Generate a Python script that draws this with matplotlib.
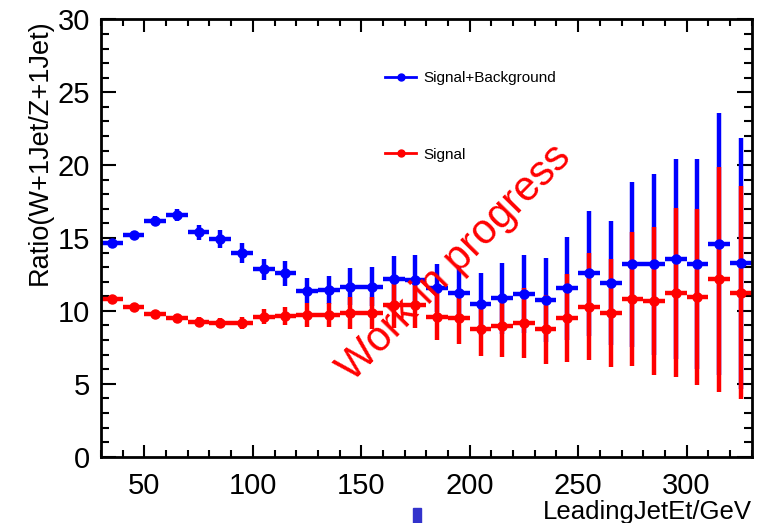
import numpy as np
import matplotlib
matplotlib.use("Agg")
import matplotlib.pyplot as plt
from matplotlib.patches import Rectangle
from matplotlib.lines import Line2D
from matplotlib.ticker import MultipleLocator

plt.rcParams['font.family'] = ['Liberation Sans', 'DejaVu Sans']

# bin centres (GeV), bin half-width 5
et = np.arange(35, 330, 10)
half_width = 5

sig_bkg = [14.64, 15.2, 16.19, 16.58, 15.39, 14.93, 13.99, 12.85, 12.58, 11.37,
           11.43, 11.66, 11.66, 12.19, 12.12, 11.55, 11.25, 10.47, 10.86, 11.16,
           10.75, 11.55, 12.58, 11.94, 13.2, 13.2, 13.54, 13.2, 14.6, 13.26]
sig_bkg_err = [0.3, 0.3, 0.3, 0.4, 0.5, 0.6, 0.7, 0.7, 0.85, 0.86,
               0.96, 1.25, 1.35, 1.6, 1.7, 1.65, 1.75, 2.1, 2.45, 2.65,
               2.85, 3.55, 4.27, 4.26, 5.66, 6.2, 6.86, 7.2, 9.0, 8.6]

sig = [10.82, 10.25, 9.77, 9.49, 9.26, 9.19, 9.19, 9.6, 9.65, 9.72,
       9.72, 9.83, 9.83, 10.4, 10.4, 9.6, 9.5, 8.74, 8.96, 9.15,
       8.74, 9.5, 10.3, 9.83, 10.8, 10.68, 11.25, 10.97, 12.17, 11.25]
sig_err = [0.2, 0.2, 0.25, 0.3, 0.3, 0.35, 0.4, 0.5, 0.65, 0.8,
           0.8, 1.1, 1.1, 1.6, 1.6, 1.6, 1.8, 1.85, 2.1, 2.4,
           2.35, 3.0, 3.65, 3.7, 4.6, 5.1, 5.8, 6.05, 7.7, 7.3]

fig = plt.figure(figsize=(7.67, 5.23), dpi=100)
ax = fig.add_axes([0.1317, 0.1268, 0.8483, 0.8362])

style = dict(fmt='o', markersize=6.5, elinewidth=3.2, capsize=0, linewidth=3)
ax.errorbar(et, sig_bkg, xerr=half_width, yerr=sig_bkg_err, color='#0000ff', **style)
ax.errorbar(et, sig, xerr=half_width, yerr=sig_err, color='#ff0000', **style)

ax.set_xlim(30, 330)
ax.set_ylim(0, 30)
ax.xaxis.set_major_locator(MultipleLocator(50))
ax.xaxis.set_minor_locator(MultipleLocator(10))
ax.yaxis.set_major_locator(MultipleLocator(5))
ax.yaxis.set_minor_locator(MultipleLocator(1))

ax.tick_params(which='both', direction='in', top=True, right=True,
               width=1.5, labelsize=21)
ax.tick_params(axis='x', which='major', length=9, pad=11)
ax.tick_params(axis='x', which='minor', length=5)
ax.tick_params(axis='y', which='major', length=11, pad=8)
ax.tick_params(axis='y', which='minor', length=6)
for s in ax.spines.values():
    s.set_linewidth(2)

ax.set_ylabel('Ratio(W+1Jet/Z+1Jet)', fontsize=19.5, loc='top', labelpad=3)
ax.set_xlabel('LeadingJetEt/GeV', fontsize=18.5, loc='right', labelpad=0)

handles = [Line2D([], [], color='#0000ff', marker='o', markersize=5, linewidth=2),
           Line2D([], [], color='#ff0000', marker='o', markersize=5, linewidth=2)]
ax.legend(handles, ['Signal+Background', 'Signal'], loc='upper left',
          bbox_to_anchor=(0.416, 0.913), frameon=False, fontsize=11,
          handlelength=2.0, handletextpad=0.45, labelspacing=4.1)

ax.text(0.543, 0.443, 'Work in progress', transform=ax.transAxes, color='#ff0000',
        fontsize=30, rotation=45.5, ha='center', va='center')

# small blue mark under the axis
fig.patches.append(Rectangle((0.538, 0.0), 0.011, 0.028, transform=fig.transFigure,
                             color='#3333cc', figure=fig))

fig.savefig('out.png', dpi=100)
